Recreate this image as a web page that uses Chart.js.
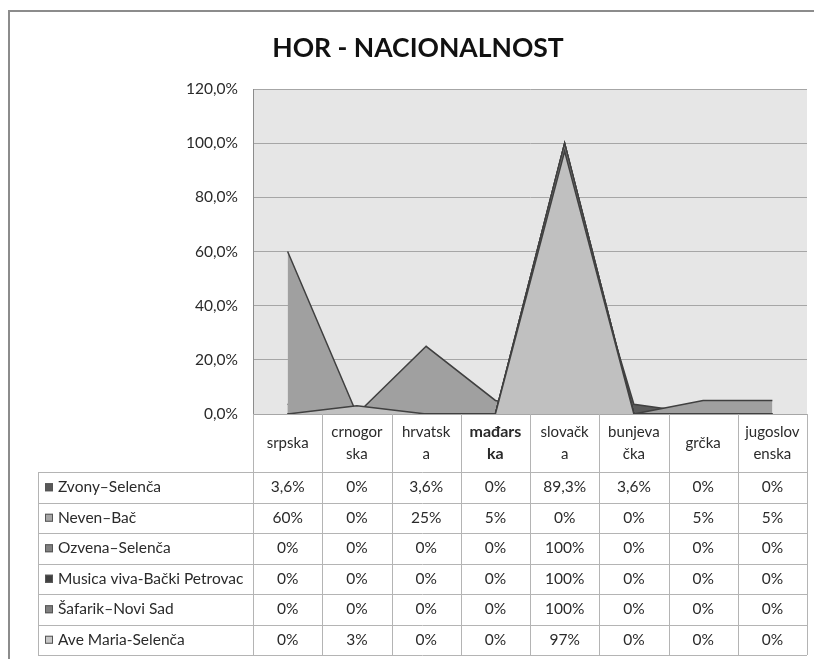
<!DOCTYPE html>
<html>
<head>
<meta charset="utf-8">
<script src="https://cdn.jsdelivr.net/npm/chart.js@4.4.0/dist/chart.umd.min.js"></script>
<style>
  html, body { margin: 0; padding: 0; background: #fff; }
  #wrap { position: relative; width: 814px; height: 659px; }
</style>
</head>
<body>
<div id="wrap"><canvas id="hor-chart" width="814" height="659"></canvas></div>
<script>
const chartTitle = 'HOR - NACIONALNOST';

// category labels, split into lines the way the table header wraps them
const categories = [
    ['srpska'], ['crnogor', 'ska'], ['hrvatsk', 'a'], ['mađars', 'ka'],
    ['slovačk', 'a'], ['bunjeva', 'čka'], ['grčka'], ['jugoslov', 'enska']
];

// series (values in %)
const seriesNames = [
    'Zvony–Selenča', 'Neven–Bač', 'Ozvena–Selenča',
    'Musica viva-Bački Petrovac', 'Šafarik–Novi Sad', 'Ave Maria-Selenča'
];
const zvony = [3.6, 0, 3.6, 0, 89.3, 3.6, 0, 0];
const neven = [60, 0, 25, 5, 0, 0, 5, 5];
const ozvena = [0, 0, 0, 0, 100, 0, 0, 0];
const musica = [0, 0, 0, 0, 100, 0, 0, 0];
const safarik = [0, 0, 0, 0, 100, 0, 0, 0];
const aveMaria = [0, 3, 0, 0, 97, 0, 0, 0];
const seriesValues = [zvony, neven, ozvena, musica, safarik, aveMaria];

const fillColors = ['#5a5a5a', '#a0a0a0', '#7f7f7f', '#454545', '#7c7c7c', '#c0c0c0'];
const keyColors = ['#595959', '#a6a6a6', '#808080', '#404040', '#7f7f7f', '#c8c8c8'];

const yTicks = [0, 20, 40, 60, 80, 100, 120];

const FONT = "Lato, 'Liberation Sans', sans-serif";

function pct(v) {
    return (v % 1 === 0 ? String(v) : v.toFixed(1).replace('.', ',')) + '%';
}

// background of the plot area, outer frame and title
const backdrop = {
    id: 'backdrop',
    beforeDraw(chart) {
        const { ctx, chartArea: a } = chart;
        ctx.save();
        ctx.fillStyle = '#e6e6e6';
        ctx.fillRect(a.left, a.top, a.right - a.left, a.bottom - a.top);
        ctx.strokeStyle = '#8c8c8c';
        ctx.lineWidth = 2;
        ctx.beginPath();
        ctx.moveTo(9, 659);
        ctx.lineTo(9, 11);
        ctx.lineTo(814, 11);
        ctx.stroke();

        ctx.fillStyle = '#111';
        ctx.font = 'bold 26.5px ' + FONT;
        ctx.textAlign = 'center';
        ctx.textBaseline = 'middle';
        ctx.fillText(chartTitle, 418, 48);
        ctx.restore();
    }
};

// data table under the plot, columns taken from the x scale
const dataTable = {
    id: 'dataTable',
    afterDraw(chart) {
        const { ctx, chartArea: a } = chart;
        const x = chart.scales.x;
        const n = categories.length;
        const colW = (a.right - a.left) / n;
        const headTop = a.bottom;
        const headBottom = 472;
        const rowH = 30.5;
        const tableLeft = 38;
        const tableBottom = headBottom + rowH * seriesNames.length;

        ctx.save();
        ctx.strokeStyle = '#b4b4b4';
        ctx.lineWidth = 1;
        ctx.beginPath();
        for (let i = 0; i <= n; i++) {
            const bx = Math.round(x.getPixelForValue(i) - colW / 2) + 0.5;
            ctx.moveTo(bx, headTop);
            ctx.lineTo(bx, tableBottom);
        }
        ctx.moveTo(tableLeft + 0.5, headBottom);
        ctx.lineTo(tableLeft + 0.5, tableBottom);
        for (let r = 0; r <= seriesNames.length; r++) {
            const ry = Math.round(headBottom + r * rowH) + 0.5;
            ctx.moveTo(tableLeft, ry);
            ctx.lineTo(a.right, ry);
        }
        ctx.stroke();

        // header
        ctx.fillStyle = '#2a2a2a';
        ctx.textAlign = 'center';
        ctx.textBaseline = 'middle';
        const headMid = (headTop + headBottom) / 2;
        categories.forEach((lines, i) => {
            const cx = x.getPixelForValue(i);
            ctx.font = (i === 3 ? 'bold 16px ' : '15px ') + FONT;
            const lh = 22;
            const y0 = headMid - (lines.length - 1) * lh / 2;
            lines.forEach((t, j) => ctx.fillText(t, cx, y0 + j * lh));
        });

        // rows
        ctx.font = '15.5px ' + FONT;
        seriesNames.forEach((name, r) => {
            const cy = headBottom + r * rowH + rowH / 2;
            ctx.fillStyle = keyColors[r];
            ctx.fillRect(45, cy - 4, 8, 8);
            ctx.strokeStyle = '#555';
            ctx.strokeRect(45.5, cy - 3.5, 7, 7);
            ctx.fillStyle = '#2a2a2a';
            ctx.textAlign = 'left';
            ctx.fillText(name, 58, cy);
            ctx.textAlign = 'center';
            seriesValues[r].forEach((v, i) => {
                ctx.fillText(pct(v), x.getPixelForValue(i), cy);
            });
        });
        ctx.restore();
    }
};

new Chart(document.getElementById('hor-chart'), {
    type: 'line',
    data: {
        labels: categories,
        datasets: seriesNames.map((name, i) => ({
            label: name,
            data: seriesValues[i],
            fill: 'origin',
            backgroundColor: fillColors[i],
            borderColor: '#404040',
            borderWidth: 1.5,
            pointRadius: 0,
            tension: 0,
            // later series sit in front, as in the original
            order: seriesNames.length - i
        }))
    },
    options: {
        responsive: false,
        animation: false,
        layout: { padding: { left: 0, right: 7, top: 89, bottom: 245 } },
        plugins: {
            legend: { display: false },
            tooltip: { enabled: false },
            title: { display: false }
        },
        scales: {
            x: {
                display: false,
                offset: true
            },
            y: {
                min: 0,
                max: 120,
                afterFit(scale) { scale.width = 253; },
                afterBuildTicks(scale) { scale.ticks = yTicks.map(v => ({ value: v })); },
                grid: { color: '#a6a6a6', drawTicks: false },
                border: { color: '#8c8c8c' },
                ticks: {
                    padding: 15,
                    color: '#2a2a2a',
                    font: { family: FONT, size: 15.5 },
                    callback: v => v.toFixed(1).replace('.', ',') + '%'
                }
            }
        }
    },
    plugins: [backdrop, dataTable]
});
</script>
</body>
</html>
